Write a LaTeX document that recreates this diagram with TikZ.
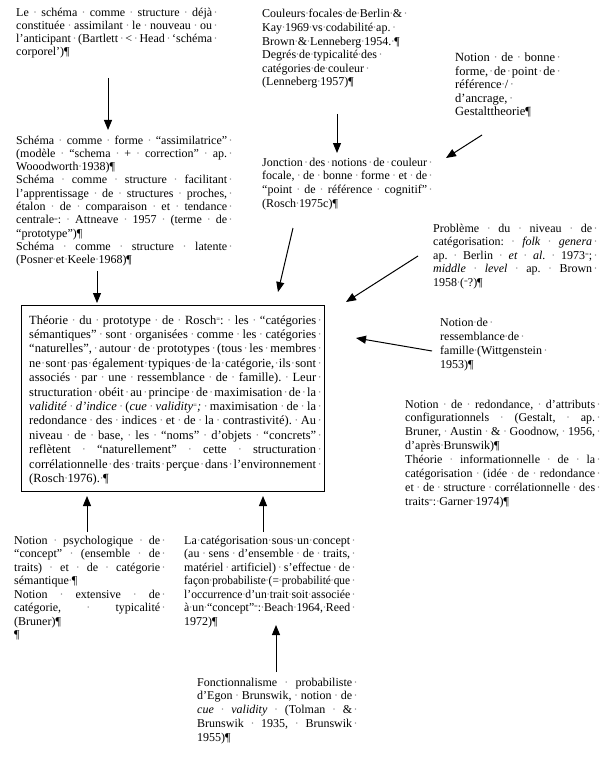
\documentclass[tikz,border=0pt]{standalone}
\usepackage{fontspec}
\setmainfont{Liberation Serif}
\usetikzlibrary{arrows.meta}
\hbadness=10000 \hfuzz=60pt
\def\gobbleone#1{}
\def\firstone#1{#1}
\def\dotglyph{\textcolor{black!50}{\char"00B7}}
\def\halfsp{\hskip .5\fontdimen2\font plus .5\fontdimen3\font minus .5\fontdimen4\font}
\def\dotsp{\halfsp\hbox to 0pt{\hss\dotglyph\hss}\halfsp}
\def\splitsp#1 #2\nil{#1\if\relax\detokenize{#2}\relax\expandafter\gobbleone\else\dotsp\expandafter\firstone\fi{\splitsp#2\nil}}
\def\trail{\hbox to 0pt{\kern1.5pt\dotglyph\hss}}
% justified line (shrunk to fit if too long), last line of paragraph, ragged line
\newcommand\J[1]{\setbox0=\hbox{\splitsp#1 \nil}%
  \ifdim\wd0>\hsize\hbox to \hsize{\resizebox{\hsize}{\height}{\box0}\trail}%
  \else\hbox to \hsize{\splitsp#1 \nil\trail}\fi}
\newcommand\F[1]{\hbox to \hsize{\splitsp#1 \nil\hfil}}
\newcommand\R[1]{\hbox to \hsize{\splitsp#1 \nil\trail\hfil}}
% width, font size, line distance, lines
\newcommand\blk[4]{\vtop{\hsize=#1\fontsize{#2}{#3}\selectfont\baselineskip=#3\lineskiplimit=-20pt\lineskip=0pt #4}}
\newcommand\fn{\raisebox{.5ex}{\scalebox{.55}{=}}}
\begin{document}
\begin{tikzpicture}[x=1pt,y=-1pt,
  txt/.style={anchor=base west,inner sep=0pt},
  arr/.style={line width=1pt,-{Triangle[length=10pt,width=8pt]}}]
\useasboundingbox (0,0) rectangle (601,757);

% main box
\node[draw,line width=1pt,minimum width=303pt,minimum height=186pt,anchor=north west,inner sep=0pt] (box) at (21,305) {};
\node[txt] (boxtext) at (29,324) {\blk{287pt}{12.5pt}{14.4pt}{%
\J{Théorie du prototype de Rosch\fn: les “catégories}
\J{sémantiques” sont organisées comme les catégories}
\J{“naturelles”, autour de prototypes (tous les membres}
\J{ne sont pas également typiques de la catégorie, ils sont}
\J{associés par une ressemblance de famille). Leur}
\J{structuration obéit au principe de maximisation de la}
\J{\textit{validité} \textit{d’indice} (\textit{cue} \textit{validity}\fn\textit{;} maximisation de la}
\J{redondance des indices et de la contrastivité). Au}
\J{niveau de base, les “noms” d’objets “concrets”}
\J{reflètent “naturellement” cette structuration}
\J{corrélationnelle des traits perçue dans l’environnement}
\F{(Rosch 1976). ¶}}};

% top left
\node[txt] (schema) at (16,17) {\blk{196pt}{12pt}{13pt}{%
\J{Le schéma comme structure déjà}
\J{constituée assimilant le nouveau ou}
\J{l’anticipant (Bartlett < Head ‘schéma}
\F{corporel’)¶}}};

\node[txt] (forme) at (16,144) {\blk{211pt}{12pt}{13.3pt}{%
\J{Schéma comme forme “assimilatrice”}
\J{(modèle “schema + correction” ap.}
\F{Wooodworth 1938)¶}
\J{Schéma comme structure facilitant}
\J{l’apprentissage de structures proches,}
\J{étalon de comparaison et tendance}
\J{centrale\fn: Attneave 1957 (terme de}
\F{“prototype”)¶}
\J{Schéma comme structure latente}
\F{(Posner et Keele 1968)¶}}};

% top middle
\node[txt] (couleurs) at (262,18) {\blk{150pt}{12pt}{13.6pt}{%
\R{Couleurs focales de Berlin \&}
\R{Kay 1969 vs codabilité ap.}
\F{Brown \& Lenneberg 1954. ¶}
\R{Degrés de typicalité des}
\R{catégories de couleur}
\F{(Lenneberg 1957)¶}}};

\node[txt] (bonne) at (455,62) {\blk{100pt}{12.5pt}{13.5pt}{%
\J{Notion de bonne}
\J{forme, de point de}
\R{référence /}
\R{d’ancrage,}
\F{Gestalttheorie¶}}};

\node[txt] (jonction) at (262,166) {\blk{165pt}{12pt}{13.7pt}{%
\J{Jonction des notions de couleur}
\J{focale, de bonne forme et de}
\J{“point de référence cognitif”}
\F{(Rosch 1975c)¶}}};

% right
\node[txt] (probleme) at (433,232) {\blk{159pt}{12pt}{13.5pt}{%
\J{Problème du niveau de}
\J{catégorisation: \textit{folk} \textit{genera}}
\J{ap. Berlin \textit{et} \textit{al.} 1973\fn;}
\J{\textit{middle} \textit{level} ap. Brown}
\F{1958 (\fn?)¶}}};

\node[txt] (famille) at (440,326) {\blk{140pt}{12pt}{14pt}{%
\R{Notion de}
\R{ressemblance de}
\R{famille (Wittgenstein}
\F{1953)¶}}};

\node[txt] (redondance) at (405,408) {\blk{190pt}{12pt}{13.9pt}{%
\J{Notion de redondance, d’attributs}
\J{configurationnels (Gestalt, ap.}
\J{Bruner, Austin \& Goodnow, 1956,}
\F{d’après Brunswik)¶}
\J{Théorie informationnelle de la}
\J{catégorisation (idée de redondance}
\J{et de structure corrélationnelle des}
\F{traits\fn: Garner 1974)¶}}};

% bottom
\node[txt] (concept) at (14,544) {\blk{146pt}{12pt}{13.5pt}{%
\J{Notion psychologique de}
\J{“concept” (ensemble de}
\J{traits) et de catégorie}
\F{sémantique ¶}
\J{Notion extensive de}
\J{catégorie, typicalité}
\F{(Bruner)¶}
\F{¶}}};

\node[txt] (proba) at (184,544) {\blk{166pt}{12pt}{13.5pt}{%
\J{La catégorisation sous un concept}
\J{(au sens d’ensemble de traits,}
\J{matériel artificiel) s’effectue de}
\J{façon probabiliste (= probabilité que}
\J{l’occurrence d’un trait soit associée}
\J{à un “concept”\fn: Beach 1964, Reed}
\F{1972)¶}}};

\node[txt] (fonct) at (197,686) {\blk{155pt}{12pt}{13.75pt}{%
\J{Fonctionnalisme probabiliste}
\J{d’Egon Brunswik, notion de}
\J{\textit{cue} \textit{validity} (Tolman \&}
\J{Brunswik 1935, Brunswik}
\F{1955)¶}}};

% arrow end points
\coordinate (a1) at (108,78);   \coordinate (a2) at (108,130);
\coordinate (b1) at (97,271);   \coordinate (b2) at (97,303);
\coordinate (c1) at (337,114);  \coordinate (c2) at (337,153);
\coordinate (d1) at (482,135);  \coordinate (d2) at (446,158);
\coordinate (e1) at (293,228);  \coordinate (e2) at (278,292);
\coordinate (f1) at (418,256);  \coordinate (f2) at (346,302);
\coordinate (h1) at (432,351);  \coordinate (h2) at (356,338);
\coordinate (j1) at (87,532);   \coordinate (j2) at (87,496);
\coordinate (k1) at (263,532);  \coordinate (k2) at (263,496);
\coordinate (l1) at (276,672);  \coordinate (l2) at (276,625);

\draw[arr] (a1) -- (a2);
\draw[arr] (b1) -- (b2);
\draw[arr] (c1) -- (c2);
\draw[arr] (d1) -- (d2);
\draw[arr] (e1) -- (e2);
\draw[arr] (f1) -- (f2);
\draw[arr] (h1) -- (h2);
\draw[arr] (j1) -- (j2);
\draw[arr] (k1) -- (k2);
\draw[arr] (l1) -- (l2);
\end{tikzpicture}
\end{document}
